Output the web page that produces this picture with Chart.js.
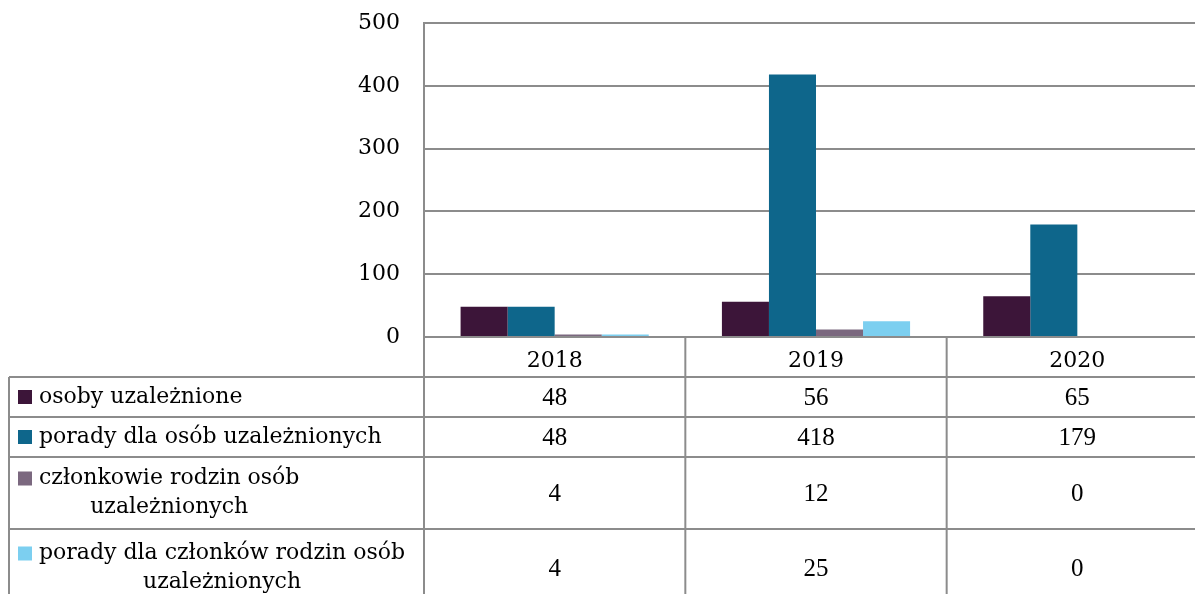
<!DOCTYPE html>
<html>
<head>
<meta charset="utf-8">
<script src="https://cdn.jsdelivr.net/npm/chart.js@4"></script>
<style>
  html, body { margin: 0; padding: 0; background: #fff; overflow: hidden; }
  #wrap { width: 1195px; height: 594px; overflow: hidden; }
</style>
</head>
<body>
<div id="wrap"><canvas id="chart" width="1208" height="594"></canvas></div>
<script>
var years = ['2018', '2019', '2020'];
var seriesNames = [
  ['osoby uzależnione'],
  ['porady dla osób uzależnionych'],
  ['członkowie rodzin osób', 'uzależnionych'],
  ['porady dla członków rodzin osób', 'uzależnionych']
];
var osoby = [48, 56, 65];
var poradyOsoby = [48, 418, 179];
var czlonkowie = [4, 12, 0];
var poradyCzlonkowie = [4, 25, 0];
var colors = ['#3c1539', '#0e668b', '#7b687f', '#7ccff0'];

var gridColor = '#8c8c8c';
var allSeries = [osoby, poradyOsoby, czlonkowie, poradyCzlonkowie];
var rowHeights = [40, 40, 72, 78];

// data table under the plot
var tablePlugin = {
  id: 'dataTable',
  afterDraw: function(chart) {
    var ctx = chart.ctx;
    var area = chart.chartArea;
    var colW = area.width / years.length;
    var tableLeft = 9;
    var headTop = area.bottom;
    var bodyTop = headTop + 40;
    ctx.save();
    ctx.strokeStyle = gridColor;
    ctx.lineWidth = 2;

    // vertical lines
    ctx.beginPath();
    ctx.moveTo(area.left, area.top);
    ctx.lineTo(area.left, chart.height);
    for (var i = 1; i <= years.length; i++) {
      var bx = area.left + i * colW;
      ctx.moveTo(bx, headTop);
      ctx.lineTo(bx, chart.height);
    }
    ctx.moveTo(tableLeft, bodyTop);
    ctx.lineTo(tableLeft, chart.height);
    ctx.stroke();

    // horizontal lines
    var y = bodyTop;
    ctx.beginPath();
    ctx.moveTo(tableLeft, y);
    ctx.lineTo(chart.width, y);
    for (var r = 0; r < rowHeights.length; r++) {
      y += rowHeights[r];
      ctx.moveTo(tableLeft, y);
      ctx.lineTo(chart.width, y);
    }
    ctx.stroke();

    // cells
    ctx.textBaseline = 'middle';
    y = bodyTop;
    for (var s = 0; s < allSeries.length; s++) {
      var h = rowHeights[s];
      var lines = seriesNames[s];
      var lineH = 29;
      var textLeft = 39;
      ctx.font = '22px "DejaVu Serif"';
      var firstW = ctx.measureText(lines[0]).width;
      var centre = textLeft + firstW / 2;
      var startY = y + h / 2 - (lines.length - 1) * lineH / 2;
      ctx.fillStyle = colors[s];
      ctx.fillRect(18, startY - 7, 14, 14);
      ctx.fillStyle = '#000';
      for (var l = 0; l < lines.length; l++) {
        if (l === 0) {
          ctx.textAlign = 'left';
          ctx.fillText(lines[l], textLeft, startY);
        } else {
          ctx.textAlign = 'center';
          ctx.fillText(lines[l], centre, startY + l * lineH);
        }
      }
      ctx.font = '25px "Liberation Serif"';
      ctx.textAlign = 'center';
      for (var c = 0; c < years.length; c++) {
        ctx.fillText(String(allSeries[s][c]), chart.scales.x.getPixelForValue(c), y + h / 2 + 1);
      }
      y += h;
    }
    ctx.restore();
  }
};

var datasets = allSeries.map(function(d, i) {
  return {
    label: seriesNames[i].join(' '),
    data: d,
    backgroundColor: colors[i],
    borderWidth: 0
  };
});

var chart = new Chart(document.getElementById('chart').getContext('2d'), {
  type: 'bar',
  data: { labels: years, datasets: datasets },
  options: {
    responsive: false,
    animation: false,
    datasets: { bar: { categoryPercentage: 0.72, barPercentage: 1 } },
    layout: { padding: { top: 23, right: 0, left: 0, bottom: 594 - 377 } },
    plugins: { legend: { display: false }, tooltip: { enabled: false } },
    scales: {
      x: {
        grid: { display: false },
        border: { display: false },
        ticks: { color: '#000', font: { family: 'DejaVu Serif', size: 22 }, padding: 3 },
        afterFit: function(scale) { scale.height = 40; }
      },
      y: {
        min: 0,
        max: 500,
        ticks: { stepSize: 100, color: '#000', font: { family: 'DejaVu Serif', size: 22 }, padding: 0 },
        grid: { color: gridColor, lineWidth: 2, drawTicks: true, tickLength: 24, tickColor: 'rgba(0,0,0,0)' },
        border: { color: gridColor, width: 2 },
        afterFit: function(scale) { scale.width = 424; }
      }
    }
  },
  plugins: [tablePlugin]
});
</script>
</body>
</html>
